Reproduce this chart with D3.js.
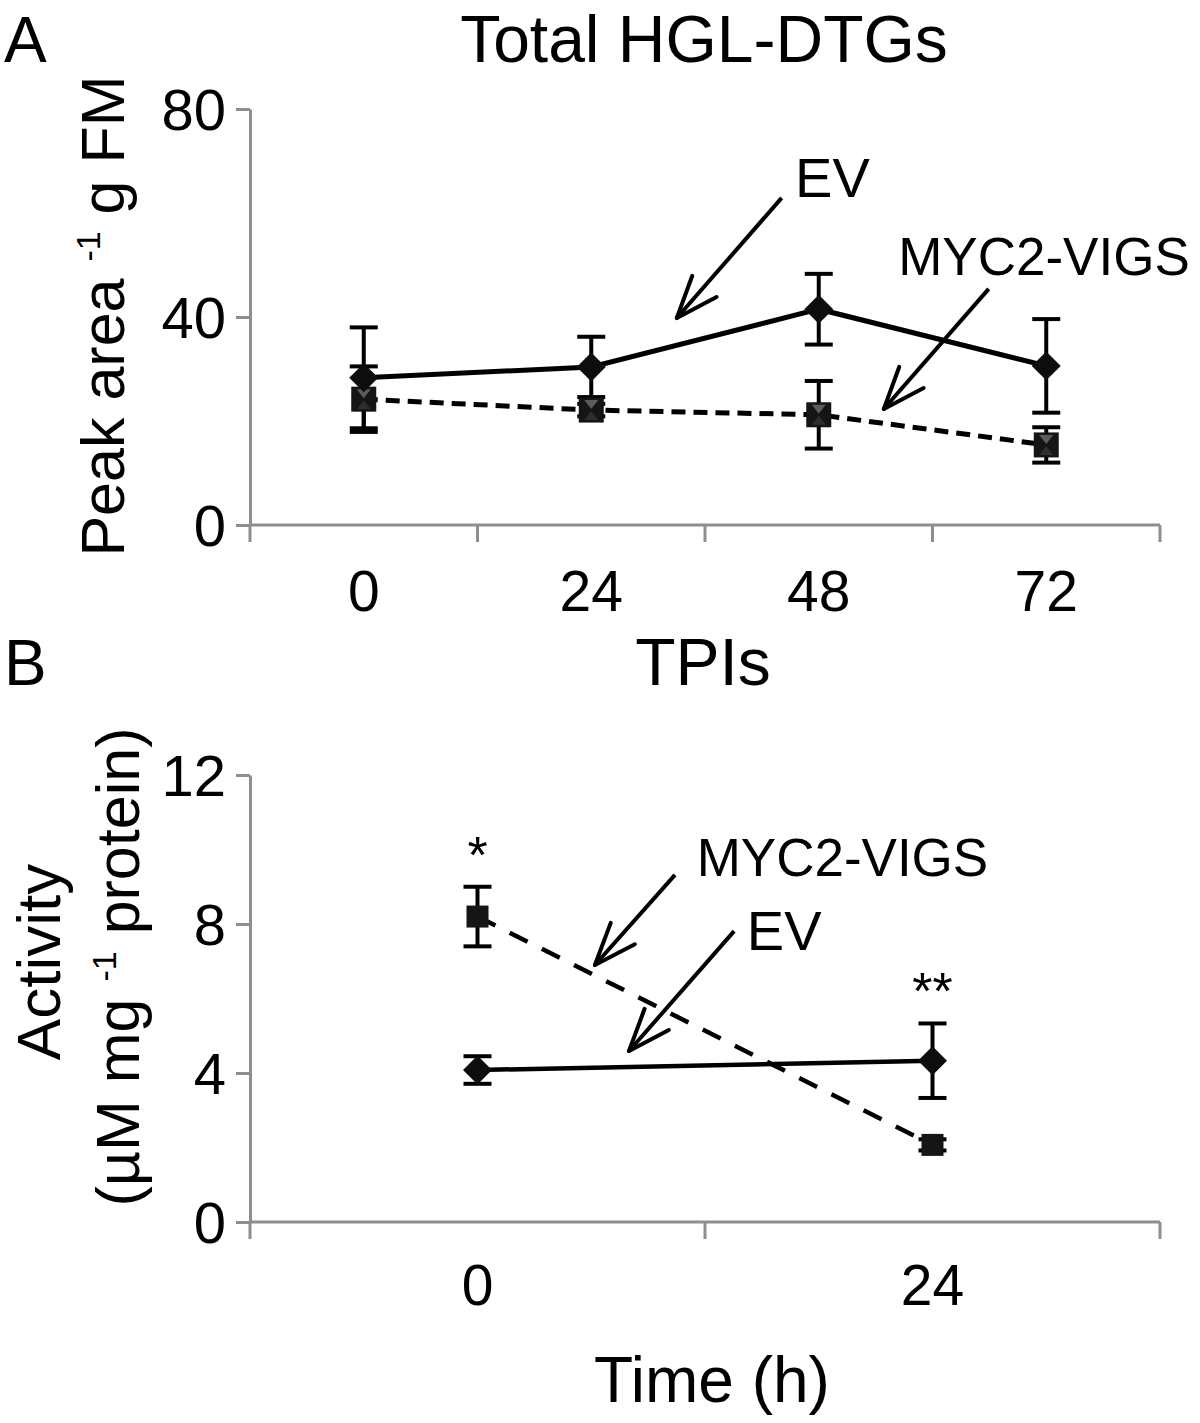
<!DOCTYPE html>
<html>
<head>
<meta charset="utf-8">
<script src="https://cdn.jsdelivr.net/npm/d3@7"></script>
<style>
  body { margin: 0; background: #fff; }
  text { font-family: "Liberation Sans", Arial, Helvetica, sans-serif; fill: #000; }
</style>
</head>
<body>
<script>
// panel A - total HGL-DTGs
var timesA = ["0", "24", "48", "72"];
var evA = [28.3, 30.4, 41.5, 30.6];
var evAErr = [9.7, 5.8, 6.8, 9.0];
var mycA = [24.2, 22.1, 21.2, 15.4];
var mycAErr = [6.3, 1.2, 6.5, 3.4];
var ticksA = [0, 40, 80];

// panel B - TPIs
var timesB = ["0", "24"];
var evB = [4.08, 4.33];
var evBErr = [0.37, 1.0];
var mycB = [8.2, 2.07];
var mycBErr = [0.8, 0.15];
var ticksB = [0, 4, 8, 12];
var starsB = ["*", "**"];

var W = 1200, H = 1423;
var axisGrey = "#8e8e8e";

var svg = d3.select("body").append("svg")
  .attr("width", W).attr("height", H);

// arrows are open V heads
var draw_arrow = function(g, x1, y1, x2, y2, sw) {
  g.append("line")
    .attr("x1", x1).attr("y1", y1).attr("x2", x2).attr("y2", y2)
    .attr("stroke", "#000").attr("stroke-width", sw);
  var ang = Math.atan2(y1 - y2, x1 - x2);
  var len = 45, spread = 21 * Math.PI / 180;
  [ang - spread, ang + spread].forEach(function(a) {
    g.append("line")
      .attr("x1", x2).attr("y1", y2)
      .attr("x2", x2 + len * Math.cos(a)).attr("y2", y2 + len * Math.sin(a))
      .attr("stroke", "#000").attr("stroke-width", sw)
      .attr("stroke-linecap", "round");
  });
};

var draw_panel = function(p) {
  var g = svg.append("g");
  var x = d3.scaleBand().domain(p.times).range([250, 1160]);
  var y = d3.scaleLinear().domain([0, p.yMax]).range([p.y0, p.yTop]);
  var cx = function(t) { return x(t) + x.bandwidth() / 2; };
  // index space for annotations (0 = first time point, 1 = next)
  var xi = d3.scaleLinear().domain([0, 1]).range([cx(p.times[0]), cx(p.times[0]) + x.bandwidth()]);

  // y axis
  var yAxis = d3.axisLeft(y).tickValues(p.ticks).tickSize(14).tickSizeOuter(0).tickPadding(10);
  var ya = g.append("g").attr("transform", "translate(250,0)").call(yAxis);
  ya.select(".domain").attr("stroke", axisGrey).attr("stroke-width", 3);
  ya.selectAll(".tick line").attr("stroke", axisGrey).attr("stroke-width", 3);
  ya.selectAll(".tick text")
    .style("font-family", '"Liberation Sans", Arial, sans-serif')
    .style("font-size", "58px").attr("fill", "#000").attr("dy", "0.35em");

  // x axis - line plus ticks on band edges
  g.append("line")
    .attr("x1", 250).attr("x2", x.range()[1]).attr("y1", p.y0).attr("y2", p.y0)
    .attr("stroke", axisGrey).attr("stroke-width", 3);
  var edges = [x.range()[0]].concat(p.times.map(function(t) { return x(t) + x.bandwidth(); }));
  g.selectAll(".xtick").data(edges).enter().append("line")
    .attr("class", "xtick")
    .attr("x1", function(d) { return d; }).attr("x2", function(d) { return d; })
    .attr("y1", p.y0).attr("y2", p.y0 + 17)
    .attr("stroke", axisGrey).attr("stroke-width", 3);
  g.selectAll(".xlab").data(p.times).enter().append("text")
    .attr("class", "xlab")
    .attr("x", cx).attr("y", p.y0 + p.xLabOff)
    .attr("text-anchor", "middle").style("font-size", "57px")
    .text(function(d) { return d; });

  // lines
  var line = d3.line()
    .x(function(d) { return cx(d.t); })
    .y(function(d) { return y(d.v); });
  var evPts = p.times.map(function(t, i) { return {t: t, v: p.ev[i], e: p.evErr[i]}; });
  var mycPts = p.times.map(function(t, i) { return {t: t, v: p.myc[i], e: p.mycErr[i]}; });

  g.append("path").datum(mycPts).attr("d", line)
    .attr("fill", "none").attr("stroke", "#000")
    .attr("stroke-width", p.lw).attr("stroke-dasharray", p.dash);
  g.append("path").datum(evPts).attr("d", line)
    .attr("fill", "none").attr("stroke", "#000").attr("stroke-width", p.lw);

  // error bars
  var capW = 28;
  [evPts, mycPts].forEach(function(pts) {
    pts.forEach(function(d) {
      var xx = cx(d.t);
      g.append("line").attr("x1", xx).attr("x2", xx)
        .attr("y1", y(d.v - d.e)).attr("y2", y(d.v + d.e))
        .attr("stroke", "#000").attr("stroke-width", 4);
      [d.v - d.e, d.v + d.e].forEach(function(v) {
        g.append("line").attr("x1", xx - capW / 2).attr("x2", xx + capW / 2)
          .attr("y1", y(v)).attr("y2", y(v))
          .attr("stroke", "#000").attr("stroke-width", 4);
      });
    });
  });

  // markers
  var sq = p.sqSize;
  mycPts.forEach(function(d) {
    var m = g.append("g").attr("transform", "translate(" + cx(d.t) + "," + y(d.v) + ")");
    m.append("rect").attr("x", -sq / 2).attr("y", -sq / 2).attr("width", sq).attr("height", sq)
      .attr("fill", "#151515");
    if (p.shade) {
      m.append("path").attr("d", "M-7,-10L7,-10L0,-1Z").attr("fill", "#5c5c5c");
      m.append("path").attr("d", "M-7,10L7,10L0,1Z").attr("fill", "#2e2e2e");
    }
  });
  g.selectAll(".dia").data(evPts).enter().append("path")
    .attr("class", "dia")
    .attr("d", d3.symbol().type(d3.symbolSquare).size(420))
    .attr("transform", function(d) { return "translate(" + cx(d.t) + "," + y(d.v) + ") rotate(45)"; })
    .attr("fill", "#0d0d0d");

  // significance stars
  if (p.stars) {
    var starTop = [mycPts[0].v + mycPts[0].e, evPts[1].v + evPts[1].e];
    g.selectAll(".star").data(p.stars).enter().append("text")
      .attr("class", "star")
      .attr("x", function(d, i) { return cx(p.times[i]); })
      .attr("y", function(d, i) { return y(starTop[i]) - 14; })
      .attr("text-anchor", "middle").style("font-size", "52px")
      .text(function(d) { return d; });
  }

  // annotations
  p.notes.forEach(function(n) {
    g.append("text").attr("x", xi(n.at[0])).attr("y", y(n.at[1]))
      .attr("text-anchor", "middle").style("font-size", n.size + "px").text(n.text);
    draw_arrow(g, xi(n.from[0]), y(n.from[1]), xi(n.to[0]), y(n.to[1]), 4);
  });

  // panel letter and title
  g.append("text").attr("x", 4).attr("y", p.titleY).style("font-size", "64px").text(p.letter);
  g.append("text").attr("x", p.titleX).attr("y", p.titleY)
    .attr("text-anchor", "middle").style("font-size", "66px").text(p.title);

  return {x: x, y: y};
};

draw_panel({
  times: timesA, ev: evA, evErr: evAErr, myc: mycA, mycErr: mycAErr,
  ticks: ticksA, yMax: 80, y0: 525, yTop: 109, xLabOff: 86,
  lw: 5, dash: "14,8", sqSize: 25, shade: true,
  letter: "A", title: "Total HGL-DTGs", titleX: 704, titleY: 62,
  notes: [
    {text: "EV", size: 56, at: [2.06, 63.1], from: [1.837, 62.9], to: [1.376, 39.8]},
    {text: "MYC2-VIGS", size: 53, at: [2.99, 48.1], from: [2.747, 45.4], to: [2.286, 22.3]}
  ]
});

draw_panel({
  times: timesB, ev: evB, evErr: evBErr, myc: mycB, mycErr: mycBErr,
  ticks: ticksB, yMax: 12, y0: 1222, yTop: 775, xLabOff: 83,
  lw: 4.5, dash: "20,16", sqSize: 22, shade: false, stars: starsB,
  letter: "B", title: "TPIs", titleX: 703, titleY: 685,
  notes: [
    {text: "MYC2-VIGS", size: 53, at: [0.802, 9.29], from: [0.434, 9.32], to: [0.258, 6.90]},
    {text: "EV", size: 56, at: [0.674, 7.30], from: [0.564, 7.81], to: [0.333, 4.59]}
  ]
});

// y axis labels (rotated)
var ylabA = svg.append("text")
  .attr("transform", "translate(124,316) rotate(-90)")
  .attr("text-anchor", "middle").style("font-size", "61px");
ylabA.append("tspan").text("Peak area ");
ylabA.append("tspan").attr("dy", -24).style("font-size", "34px").text("-1");
ylabA.append("tspan").attr("dy", 24).text(" g FM");

svg.append("text")
  .attr("transform", "translate(60,962) rotate(-90)")
  .attr("text-anchor", "middle").style("font-size", "62px").text("Activity");
var ylabB = svg.append("text")
  .attr("transform", "translate(139,967) rotate(-90)")
  .attr("text-anchor", "middle").style("font-size", "61px");
ylabB.append("tspan").text("(\u00b5M mg ");
ylabB.append("tspan").attr("dy", -23).style("font-size", "34px").text("-1");
ylabB.append("tspan").attr("dy", 23).text(" protein)");

// x axis title
svg.append("text").attr("x", 712).attr("y", 1402)
  .attr("text-anchor", "middle").style("font-size", "64px").text("Time (h)");
</script>
</body>
</html>
